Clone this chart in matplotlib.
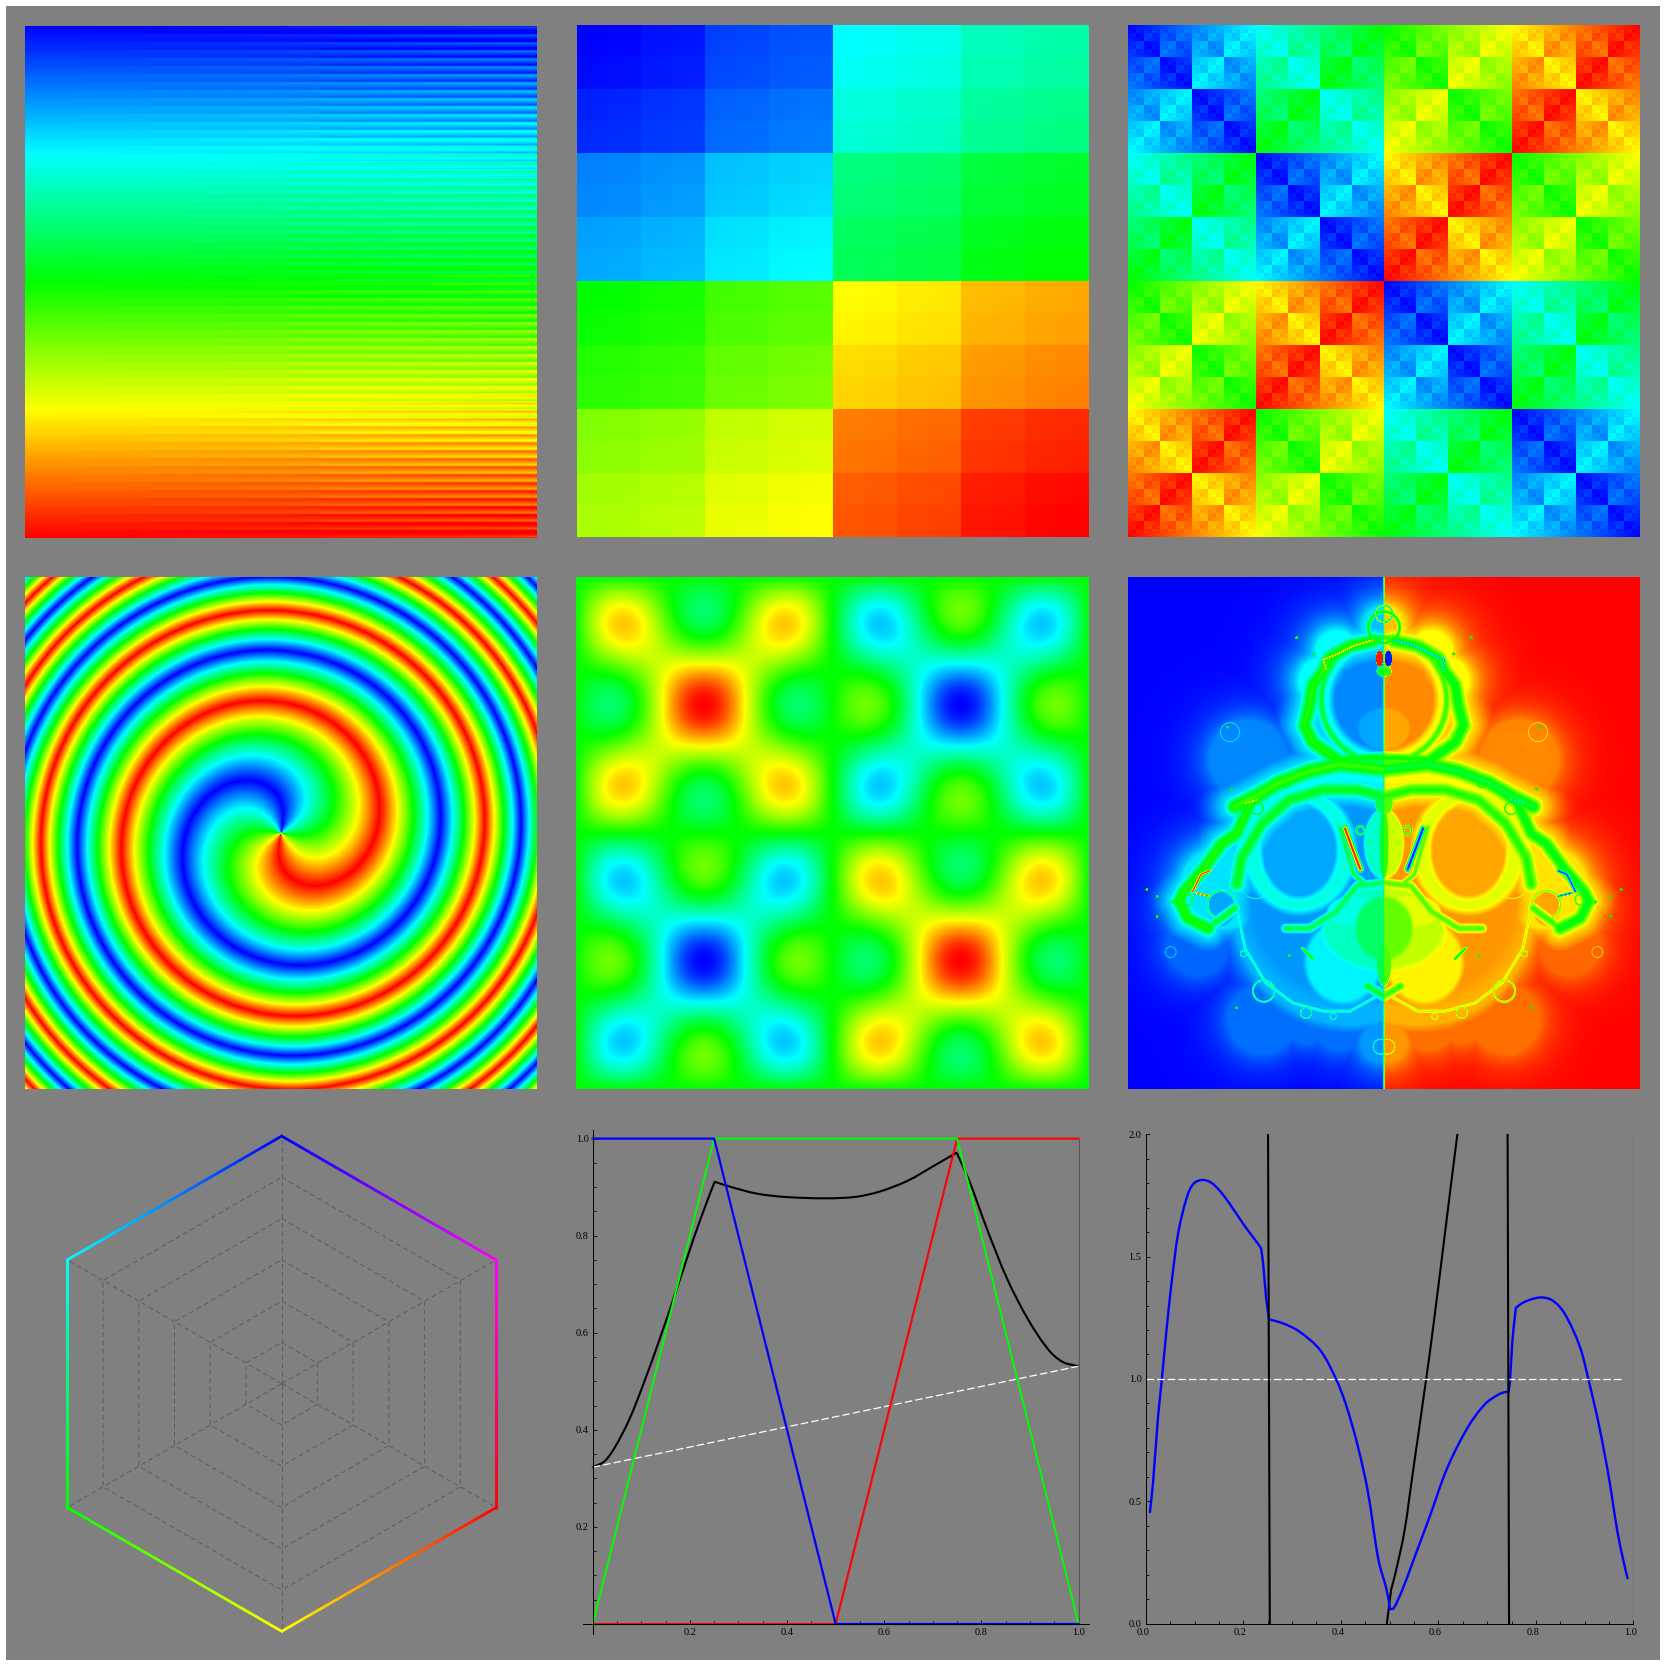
import numpy as np
import matplotlib
matplotlib.use('Agg')
import matplotlib.pyplot as plt
from matplotlib.collections import LineCollection
from matplotlib.colors import LinearSegmentedColormap, to_rgb
from matplotlib.patches import PathPatch, Rectangle
from matplotlib.path import Path
from matplotlib.transforms import ScaledTranslation

plt.rcParams['font.family'] = ['Liberation Serif', 'DejaVu Serif']

SIZE = 1666
GRAY = '#808080'

rainbow_colors = ['#0000ff', '#00ffff', '#00ff00', '#ffff00', '#ff0000']

# hexagon
hex_colors = ['#0000ff', '#ff00ff', '#ff0000', '#ffff00', '#00ff00', '#00ffff']
hex_levels = [1/6, 2/6, 3/6, 4/6, 5/6]

# triangle wave plot
wave_x = [0.0, 0.25, 0.5, 0.75, 1.0]
wave_red = [0, 0, 0, 1, 1]
wave_green = [0, 1, 1, 1, 0]
wave_blue = [1, 1, 0, 0, 0]
mix_x = [0, .024, .045, .074, .102, .1375, .173, .208, .237, .251, .286, .336, .393, .478,
         .5415, .591, .648, .704, .749, .775, .811, .853, .896, .938, .967, 1]
mix_y = [.323, .335, .363, .4185, .488, .586, .69, .795, .875, .911, .90, .887, .88, .877,
         .88, .891, .913, .945, .971, .913, .815, .711, .6275, .565, .54, .531]
mix_breaks = [9, 18]
chord_x = [0, 1]
chord_y = [.323, .531]

# ratio plot
ratio_x = [.0085, .015, .025, .033, .042, .053, .067, .085, .099, .1165, .134, .152, .173, .201,
           .2295, .2366, .241, .247, .2528, .279, .314, .357, .39, .41, .434, .4555, .477, .494,
           .501, .508, .526, .547, .583, .618, .66, .696, .724, .738, .744, .747, .752, .759,
           .777, .809, .833, .858, .89, .9075, .929, .95, .9675, .982, .988]
ratio_y = [.456, .58, .842, 1.0, 1.19, 1.395, 1.602, 1.747, 1.80, 1.813, 1.802, 1.768, 1.713, 1.63,
           1.554, 1.533, 1.464, 1.326, 1.243, 1.229, 1.195, 1.119, 1.0, .898, .732, .539, .262, .138,
           .059, .062, .138, .249, .442, .635, .801, .898, .937, .947, .945, .994, 1.16, 1.291,
           1.315, 1.333, 1.322, 1.27, 1.133, 1.0, .815, .594, .373, .235, .186]
ratio_breaks = [15, 18, 28, 38, 41]
steep1_x = [.2507, .2543]
steep1_y = [2, 0]
steep2_x = [.4944, .503, .512, .53, .547, .575, .586, .607, .625, .639]
steep2_y = [0, .138, .207, .373, .608, 1.0, 1.16, 1.49, 1.78, 2]
steep3_x = [.742, .745]
steep3_y = [2, 0]

# fractal panel, left half in a 1560 wide frame (midline at 780)
# outline of the figure: cx, cy, r, level
fractal_outline = [
    (780, 170, 62, .45), (780, 385, 195, .5), (640, 240, 60, .5), (600, 330, 70, .5), (780, 560, 70, .5),
    (380, 560, 115, .26), (620, 870, 275, .5), (300, 940, 120, .45), (230, 1000, 70, .4),
    (680, 1000, 345, .35), (230, 1110, 90, .2), (420, 1330, 100, .22), (550, 1340, 60, .22),
    (770, 1400, 55, .3), (650, 1340, 80, .22),
]
# soft edged fills: cx, cy, rx, ry, level
fractal_fills = [
    (780, 170, 42, 42, .38), (780, 385, 165, 165, .27), (780, 470, 80, 65, .33),
    (380, 560, 105, 95, .27), (680, 960, 335, 340, .3), (530, 830, 175, 195, .55),
    (530, 830, 120, 150, .33), (660, 1160, 120, 130, .48), (780, 1060, 190, 130, .62),
    (700, 1010, 90, 48, .55), (780, 1060, 90, 100, .8), (780, 810, 62, 110, .6),
    (780, 810, 14, 110, .9), (780, 1170, 22, 65, .85), (300, 1000, 42, 55, .33),
    (780, 690, 28, 35, .85), (767, 262, 12, 25, 1.95), (775, 300, 18, 16, .9),
]
# ridges: level, width, then the points
fractal_ridges = [
    (1.05, 30, [(750, 210), (680, 225), (620, 260), (600, 300), (570, 340), (560, 400), (545, 460), (570, 510), (640, 560)]),
    (1.0, 20, [(640, 560), (780, 555)]),
    (1.1, 32, [(780, 590), (650, 575), (560, 595), (470, 630), (400, 670), (340, 700)]),
    (1.05, 28, [(470, 630), (385, 690), (345, 780), (300, 810), (250, 880), (190, 950), (175, 980), (200, 1030), (260, 1060)]),
    (.9, 18, [(260, 1060), (340, 1000)]),
    (.95, 28, [(780, 670), (700, 650), (600, 650), (500, 680), (420, 750), (360, 850), (345, 930)]),
    (.6, 8, [(345, 1000), (370, 1120), (430, 1220), (510, 1280), (600, 1305), (680, 1305), (760, 1260)]),
    (.85, 16, [(490, 1060), (560, 1060), (640, 1010), (700, 935), (780, 925)]),
    (1.1, 6, [(540, 1120), (570, 1150)]),
    (.9, 18, [(730, 1230), (780, 1260)]),
    (.85, 12, [(650, 760), (690, 900), (720, 925)]),
    (.95, 3, [(780, 21), (780, 1535)]),
    (1.95, 9, [(665, 765), (685, 820), (710, 885)]),
    (1.7, 4, [(610, 295), (600, 265), (640, 250), (690, 225), (745, 208)]),
    (1.9, 6, [(215, 950), (240, 900), (265, 890)]),
    (1.8, 4, [(225, 955), (265, 965)]),
    (1.7, 3, [(370, 690), (405, 680)]),
]
# rings: cx, cy, r, level, width
fractal_rings = [
    (780, 170, 46, 1.0, 8), (780, 130, 25, 1.4, 3), (780, 385, 168, .55, 5), (780, 385, 185, .9, 16),
    (425, 1245, 32, .75, 4), (550, 1310, 16, .75, 3), (365, 1135, 9, .7, 3), (630, 1320, 9, .6, 3),
    (770, 1410, 22, .6, 3), (150, 1130, 16, .4, 3), (325, 480, 28, .45, 3),
    (400, 930, 42, .55, 3), (300, 990, 42, .75, 6), (200, 975, 16, .95, 4), (490, 630, 14, 1.0, 4),
    (405, 705, 18, 1.0, 4), (710, 770, 12, 1.0, 4),
]
# isolated specks: x, y
fractal_dots = [(80, 945), (155, 982), (110, 965), (110, 1025), (522, 200), (575, 248),
                (318, 465), (345, 1295), (330, 648), (500, 1140)]


def px_axes(fig, x0, y0, x1, y1):
    # rectangle in picture pixels, y going down
    return fig.add_axes([x0 / SIZE, 1 - y1 / SIZE, (x1 - x0) / SIZE, (y1 - y0) / SIZE])


def show_field(fig, x0, y0, field, w=512, h=512):
    ax = px_axes(fig, x0, y0, x0 + w, y0 + h)
    ax.imshow(field, cmap=rainbow, vmin=0, vmax=1, interpolation='nearest', aspect='auto')
    ax.axis('off')


def polyline_distance(X, Y, pts):
    d = np.full(X.shape, 1e9)
    for (ax_, ay), (bx, by) in zip(pts[:-1], pts[1:]):
        dx, dy = bx - ax_, by - ay
        u = np.clip(((X - ax_) * dx + (Y - ay) * dy) / max(dx * dx + dy * dy, 1e-9), 0, 1)
        d = np.minimum(d, np.hypot(X - ax_ - u * dx, Y - ay - u * dy))
    return d


def fractal_field():
    xs = 24 + (np.arange(512) + .5) * 1512 / 512
    ys = 21 + (np.arange(512) + .5) * 1514 / 512
    X, Y = np.meshgrid(xs, ys)
    X = np.minimum(X, 1560 - X)
    h = np.zeros(X.shape)
    for cx, cy, r, lev in fractal_outline:
        d = np.hypot(X - cx, Y - cy) - r
        h = np.maximum(h, lev * np.exp(-np.maximum(d, 0) / 55))
    for cx, cy, rx, ry, lev in fractal_fills:
        rho = np.hypot((X - cx) / rx, (Y - cy) / ry)
        mask = np.clip((1 - rho) / .12, 0, 1)
        h = h * (1 - mask) + lev * mask
    for lev, w, pts in fractal_ridges:
        d = polyline_distance(X, Y, pts)
        h = np.maximum(h, lev * np.exp(-(d / w) ** 2))
        # wide arms fade out through cyan
        if w >= 28:
            h = np.maximum(h, .5 * np.exp(-(d / (2.6 * w)) ** 2))
    for cx, cy, r, lev, w in fractal_rings:
        h = np.maximum(h, lev * np.exp(-((np.hypot(X - cx, Y - cy) - r) / w) ** 2))
    for cx, cy in fractal_dots:
        h = np.maximum(h, 1.0 * (np.hypot(X - cx, Y - cy) < 4.5))
    t = np.where(np.arange(512)[None, :] < 256, h / 2, 1 - h / 2)
    return np.clip(t, 0, 1)


def style_axes(ax, majors, minors, xmajors):
    for s in ['top', 'right']:
        ax.spines[s].set_visible(False)
    ax.spines['left'].set_position(('data', 0))
    ax.spines['bottom'].set_position(('data', 0))
    ax.spines['left'].set_linewidth(.7)
    ax.spines['bottom'].set_linewidth(.7)
    ax.patch.set_alpha(0)
    ax.set_xticks(xmajors)
    ax.set_yticks(majors)
    ax.set_xticks(np.arange(0, 1.001, .05), minor=True)
    ax.set_yticks(minors, minor=True)
    ax.tick_params(which='major', direction='in', length=3.2, width=.6, pad=3, labelsize=7.5)
    ax.tick_params(which='minor', direction='in', length=2, width=.6)
    ax.set_xticklabels([f'{v:.1f}' for v in xmajors])
    ax.set_yticklabels([f'{v:.1f}' for v in majors])


def smooth_curve(ax, x, y, breaks=(), **kw):
    # Bezier through the read points, kept sharp at the break indices
    pts = np.c_[x, y]
    cuts = [0] + list(breaks) + [len(pts) - 1]
    verts, codes = [], []
    for a, b in zip(cuts[:-1], cuts[1:]):
        p = pts[a:b + 1]
        n = len(p)
        if a == 0:
            verts.append(p[0])
            codes.append(Path.MOVETO)
        for i in range(n - 1):
            seg = np.hypot(*(p[i + 1] - p[i]))
            t0 = p[i + 1] - p[max(i - 1, 0)]
            t1 = p[min(i + 2, n - 1)] - p[i]
            t0 = t0 / np.hypot(*t0) * seg / 3
            t1 = t1 / np.hypot(*t1) * seg / 3
            verts += [p[i] + t0, p[i + 1] - t1, p[i + 1]]
            codes += [Path.CURVE4] * 3
    ax.add_patch(PathPatch(Path(verts, codes), fill=False, capstyle='round', joinstyle='round', **kw))


rainbow = LinearSegmentedColormap.from_list('rainbow5', rainbow_colors, N=1024)

fig = plt.figure(figsize=(SIZE / 100, SIZE / 100), dpi=100, facecolor='white')
fig.add_artist(Rectangle((6 / SIZE, 6 / SIZE), (SIZE - 12) / SIZE, (SIZE - 12) / SIZE,
                         transform=fig.transFigure, facecolor=GRAY, edgecolor='none', zorder=-1))

N = 512
cols = np.arange(N)
iy, ix = np.meshgrid(cols, cols, indexing='ij')
yy, xx = (iy + .5) / N, (ix + .5) / N

# stripes getting stronger to the right
stripes = np.sin(2 * np.pi * 64 * yy) + .35 * np.sin(2 * np.pi * 128 * yy)
show_field(fig, 25, 26, np.clip(yy + .055 * xx ** 1.5 * stripes, 0, 1))

# bit interleaved cells
morton = np.zeros((N, N))
for bit in range(9):
    morton += ((iy >> bit) & 1) * 2.0 ** (2 * bit + 1) + ((ix >> bit) & 1) * 2.0 ** (2 * bit)
show_field(fig, 577, 25.5, morton / morton.max(), h=511.5)

# xor cells
show_field(fig, 1128, 25.5, (ix ^ iy) / (N - 1), w=511.5, h=511.5)

# spiral
px = ix + .5 - 256
py = 256 - (iy + .5)
cycle = (px ** 2 + py ** 2) / 32300 - .28 - np.arctan2(py, px) / (2 * np.pi)
show_field(fig, 25, 577, np.abs(2 * (cycle % 1) - 1))

# blobs
blobs = .272 * np.sin(2 * np.pi * xx) * np.sin(2 * np.pi * yy) \
    + .228 * np.sin(6 * np.pi * xx) * np.sin(6 * np.pi * yy)
show_field(fig, 576, 577, .5 + blobs, w=513)

show_field(fig, 1128, 577, fractal_field(), w=511.5)

# hexagon
cx, cy, s = 281.7, 1383.7, 247.6
ax = px_axes(fig, 25, 1112, 538, 1652)
ax.set_xlim((25 - cx) / s, (538 - cx) / s)
ax.set_ylim((cy - 1652) / s, (cy - 1112) / s)
ax.axis('off')
angles = np.radians(90 - 60 * np.arange(6))
vx, vy = np.cos(angles), np.sin(angles)
for lev in hex_levels:
    ax.plot(np.r_[vx, vx[0]] * lev, np.r_[vy, vy[0]] * lev, color='#5c5c5c', lw=.7, ls=(0, (5, 3.5)))
for a, b in zip(vx, vy):
    ax.plot([0, a], [0, b], color='#5c5c5c', lw=.7, ls=(0, (5, 3.5)))
segs, seg_cols = [], []
for i in range(6):
    j = (i + 1) % 6
    c0, c1 = np.array(to_rgb(hex_colors[i])), np.array(to_rgb(hex_colors[j]))
    f = np.linspace(0, 1, 101)
    pts = np.c_[vx[i] + f * (vx[j] - vx[i]), vy[i] + f * (vy[j] - vy[i])]
    segs += [pts[k:k + 2] for k in range(100)]
    seg_cols += [c0 + (c1 - c0) * f[k] for k in range(100)]
ax.add_collection(LineCollection(segs, colors=seg_cols, linewidths=1.8, capstyle='projecting'))

# triangle waves
ax = px_axes(fig, 583, 1129.5, 1088.6, 1634)
ax.set_xlim(-9.7 / 485.9, 1 + 10 / 485.9)
ax.set_ylim(-10 / 485.4, 1 + 9.1 / 485.4)
style_axes(ax, [.2, .4, .6, .8, 1.0], np.arange(.05, 1.001, .05), [.2, .4, .6, .8, 1.0])
ax.plot([1, 1], [0, 1], color='#555555', lw=.8)
ax.plot(chord_x, chord_y, color='white', lw=.9, ls=(0, (6, 2.5)))
ax.plot(wave_x, wave_red, color='#ff0000', lw=1.5)
ax.plot(wave_x, wave_green, color='#00ff00', lw=1.4)
ax.plot(wave_x, wave_blue, color='#0000ff', lw=1.6)
smooth_curve(ax, mix_x, mix_y, mix_breaks, edgecolor='black', lw=1.5)

# ratio curves
ax = px_axes(fig, 1145.8, 1134.2, 1633.4, 1623.7)
ax.set_xlim(0, 1)
ax.set_ylim(0, 2)
style_axes(ax, [0, .5, 1.0, 1.5, 2.0], np.arange(0, 2.001, .1), [0, .2, .4, .6, .8, 1.0])
for label in ax.get_xticklabels():
    label.set_transform(label.get_transform() + ScaledTranslation(-3 / 100, 0, fig.dpi_scale_trans))
ax.plot([1, 1], [0, 2], color='#555555', lw=.9)
ax.plot([0, .98], [1, 1], color='white', lw=.9, ls=(0, (6, 2.5)))
ax.plot(steep1_x, steep1_y, color='black', lw=1.5)
smooth_curve(ax, steep2_x, steep2_y, [1], edgecolor='black', lw=1.5)
ax.plot(steep3_x, steep3_y, color='black', lw=1.5)
smooth_curve(ax, ratio_x, ratio_y, ratio_breaks, edgecolor='#0000ff', lw=1.7)

fig.savefig('out.png', dpi=100, facecolor='white')
plt.close(fig)
